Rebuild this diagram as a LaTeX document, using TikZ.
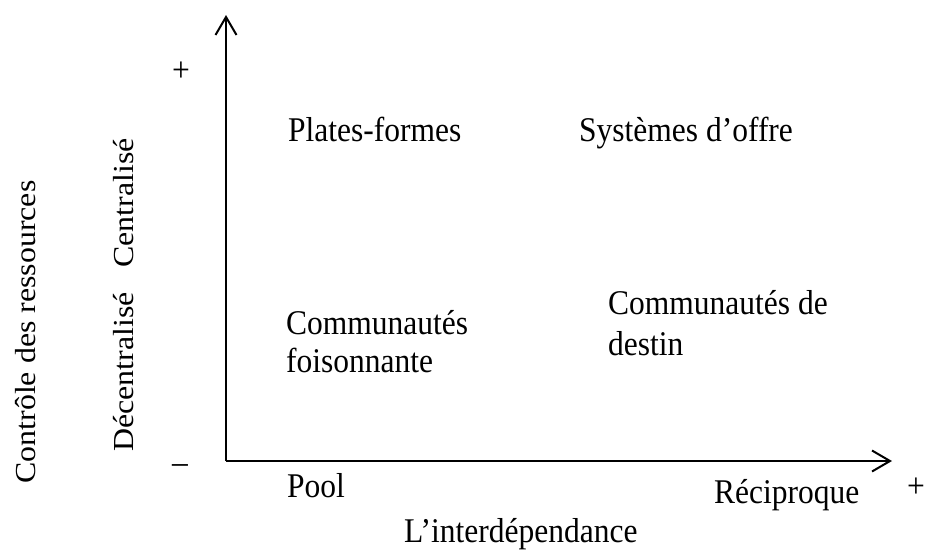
\documentclass[tikz,border=0pt]{standalone}
\usepackage{graphicx}
\usepackage{fontspec}
\setmainfont{Liberation Serif}
\usetikzlibrary{arrows.meta}
\newcommand\tallt[1]{\scalebox{1}[1.1]{#1}}
\newcommand\longt[1]{\scalebox{1.1}[1]{#1}}
\begin{document}
\begin{tikzpicture}[x=1pt,y=-1pt,
  lbl/.style={inner sep=0pt,font=\fontsize{31.5}{38}\selectfont},
  rlbl/.style={inner sep=0pt,rotate=90,anchor=base,font=\fontsize{29}{35}\selectfont},
  axisline/.style={line width=2pt,-{Straight Barb[length=18pt,width=21pt,line width=2pt]}}]
\useasboundingbox (0,0) rectangle (928,555);
\coordinate (o) at (226,461);
\coordinate (ytip) at (226,15);
\coordinate (xtip) at (892,461);
\draw[axisline] (o) -- (ytip);
\draw[axisline] (o) -- (xtip);
\node[lbl] (yplus) at (181,72) {\tallt{+}};
\node[lbl] (yminus) at (180,469) {\tallt{–}};
\node[lbl] (xplus) at (916,488) {\tallt{+}};
\node[lbl,anchor=base west] (pf) at (288,141) {\tallt{Plates-formes}};
\node[lbl,anchor=base west] (so) at (579,141) {\tallt{Systèmes d’offre}};
\node[lbl,anchor=base west] (cd1) at (608,314) {\tallt{Communautés de}};
\node[lbl,anchor=base west] (cd2) at (608,355) {\tallt{destin}};
\node[lbl,anchor=base west] (cf1) at (286,334) {\tallt{Communautés}};
\node[lbl,anchor=base west] (cf2) at (286,372) {\tallt{foisonnante}};
\node[lbl,anchor=base west] (pool) at (287,497) {\tallt{Pool}};
\node[lbl,anchor=base west] (rec) at (714,503) {\tallt{Réciproque}};
\node[lbl,anchor=base west] (inter) at (404,542) {\tallt{L’interdépendance}};
\node[rlbl] (ctrl) at (35,332) {\longt{Contrôle des ressources}};
\node[rlbl] (cent) at (133,203) {\longt{Centralisé}};
\node[rlbl] (dec) at (133,372) {\longt{Décentralisé}};
\end{tikzpicture}
\end{document}
